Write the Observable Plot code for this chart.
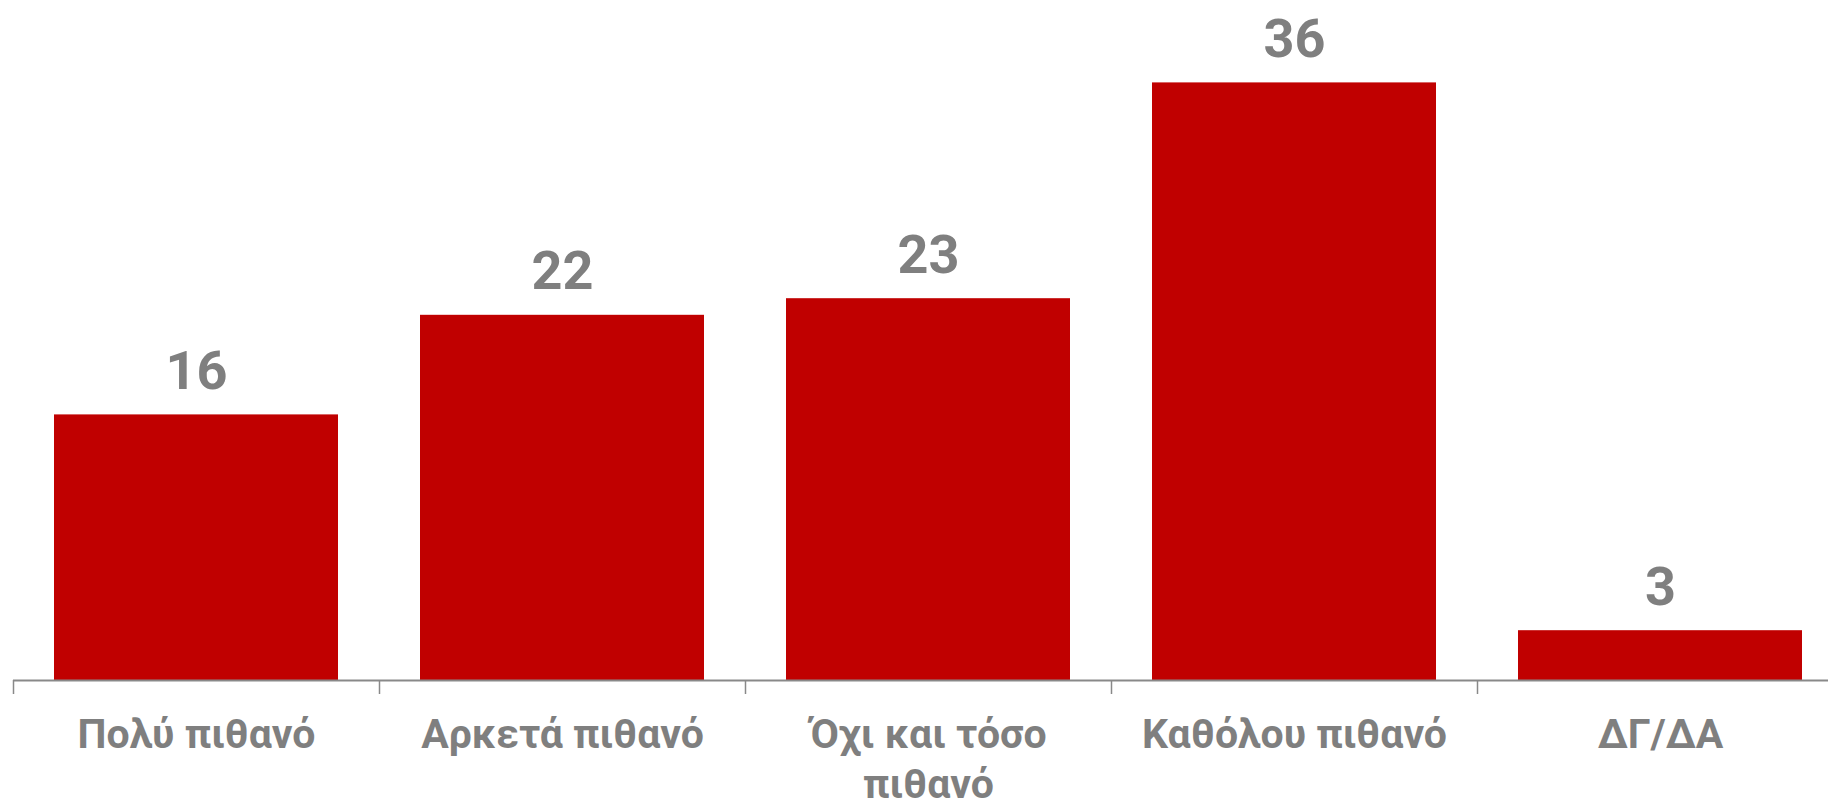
<!DOCTYPE html>
<html>
<head>
<meta charset="utf-8">
<script src="https://cdn.jsdelivr.net/npm/d3@7"></script>
<script src="https://cdn.jsdelivr.net/npm/@observablehq/plot@0.6"></script>
<style>
  html, body { margin: 0; padding: 0; background: #fff; overflow: hidden; }
  #chart svg { overflow: hidden; }
</style>
</head>
<body>
<div id="chart"></div>
<script>
const categories = ["Πολύ πιθανό", "Αρκετά πιθανό", "Όχι και τόσο πιθανό", "Καθόλου πιθανό", "ΔΓ/ΔΑ"];
const tickLabels = ["Πολύ πιθανό", "Αρκετά πιθανό", "Όχι και τόσο\nπιθανό", "Καθόλου πιθανό", "ΔΓ/ΔΑ"];
const values = [16, 22, 23, 36, 3];

const data = categories.map((c, i) => ({category: c, label: tickLabels[i], value: values[i], i}));
const boundaries = d3.range(categories.length + 1);

const chart = Plot.plot({
  width: 1828,
  height: 811,
  marginLeft: 13,
  marginRight: -15,
  marginTop: 16,
  marginBottom: 131,
  style: {fontFamily: "Roboto", background: "#fff"},
  x: {type: "linear", domain: [0, categories.length], label: null},
  y: {domain: [0, 40], axis: null, label: null},
  marks: [
    Plot.rectY(data, {x1: "i", x2: d => d.i + 1, y: "value", fill: "#C00000", insetLeft: 41, insetRight: 41}),
    Plot.ruleY([0], {stroke: "#898989", strokeWidth: 2}),
    Plot.axisX(boundaries, {tickSize: 14, tickFormat: () => "", label: null, stroke: "#898989", strokeWidth: 1.5}),
    Plot.text(data, {x: d => d.i + 0.5, y: 0, text: "label", dy: 31, lineAnchor: "top", lineHeight: 1.24,
      fontSize: 41, fontWeight: "bold", fill: "#7F7F7F"}),
    Plot.text(data, {x: d => d.i + 0.5, y: "value", text: d => String(d.value), dy: -26, lineAnchor: "bottom",
      fontSize: 54, fontWeight: "bold", fill: "#7F7F7F"})
  ]
});
document.getElementById("chart").appendChild(chart);
</script>
</body>
</html>
